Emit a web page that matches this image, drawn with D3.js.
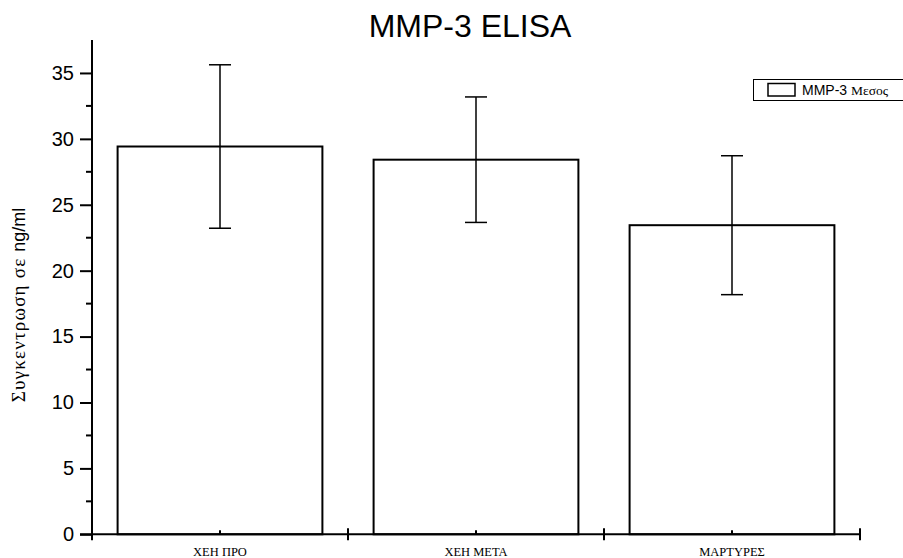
<!DOCTYPE html>
<html><head><meta charset="UTF-8"><title>MMP-3 ELISA</title>
<script src="https://cdn.jsdelivr.net/npm/d3@7"></script>
<style>
	body	{ margin:0; background:#fff; }
	svg	{ display:block; }
	.ax path, .ax line { stroke:#000; stroke-width:2; }
</style>
</head><body>
<svg width="903" height="558"></svg>
<script>
// data
var groups=["ΧΕΗ ΠΡΟ","ΧΕΗ ΜΕΤΑ","ΜΑΡΤΥΡΕΣ"];
var means=[29.42,28.42,23.45];
var errs=[6.2,4.76,5.27];
var yTicks=[0,5,10,15,20,25,30,35];
var yMinor=[2.5,7.5,12.5,17.5,22.5,27.5,32.5];

var svg=d3.select('svg');
var x0=92, x1=860, yb=534.3, yt=40;
var x=d3.scaleBand().domain(groups).range([x0,x1]).paddingInner(0).paddingOuter(0);
var y=d3.scaleLinear().domain([0,37.5]).range([yb,yt]);
var bw=x.bandwidth()*0.8;

// title
svg.append('text').attr('x',470).attr('y',37).attr('text-anchor','middle')
	.attr('font-family','Liberation Sans, Arial, sans-serif').attr('font-size',32).text('MMP-3 ELISA');

// bars
svg.selectAll('rect.bar').data(groups).enter().append('rect').attr('class','bar')
	.attr('x',function(d){return x(d)+(x.bandwidth()-bw)/2;})
	.attr('width',bw)
	.attr('y',function(d,i){return y(means[i]);})
	.attr('height',function(d,i){return y(0)-y(means[i]);})
	.attr('fill','#fff').attr('stroke','#000').attr('stroke-width',2);

// error bars
var eg=svg.append('g').attr('stroke','#000').attr('stroke-width',1.5);
groups.forEach(function(d,i){
	var cx=x(d)+x.bandwidth()/2, hi=y(means[i]+errs[i]), lo=y(means[i]-errs[i]);
	eg.append('line').attr('x1',cx).attr('x2',cx).attr('y1',hi).attr('y2',lo);
	eg.append('line').attr('x1',cx-11).attr('x2',cx+11).attr('y1',hi).attr('y2',hi);
	eg.append('line').attr('x1',cx-11).attr('x2',cx+11).attr('y1',lo).attr('y2',lo);
});

// y axis
var ya=svg.append('g').attr('class','ax').attr('transform','translate('+x0+',0)')
	.call(d3.axisLeft(y).tickValues(yTicks).tickSize(12).tickPadding(6).tickSizeOuter(0));
ya.select('.domain').attr('d','M0,'+yb+'V'+yt);
ya.selectAll('text').attr('font-family','Liberation Sans, Arial, sans-serif').attr('font-size',20).attr('fill','#000');
ya.selectAll('line.minor').data(yMinor).enter().append('line').attr('class','minor')
	.attr('x1',-6).attr('x2',0).attr('y1',function(d){return y(d);}).attr('y2',function(d){return y(d);});

// x axis
var xa=svg.append('g').attr('class','ax');
xa.append('line').attr('x1',x0-12).attr('x2',x1).attr('y1',yb).attr('y2',yb);
var bounds=groups.map(function(d){return x(d);}).concat([x1]);
xa.selectAll('line.maj').data(bounds).enter().append('line').attr('class','maj')
	.attr('x1',function(d){return d;}).attr('x2',function(d){return d;}).attr('y1',yb-6).attr('y2',yb+6);
xa.selectAll('line.min').data(groups).enter().append('line').attr('class','min')
	.attr('x1',function(d){return x(d)+x.bandwidth()/2;}).attr('x2',function(d){return x(d)+x.bandwidth()/2;})
	.attr('y1',yb-4).attr('y2',yb);
xa.selectAll('text').data(groups).enter().append('text')
	.attr('x',function(d){return x(d)+x.bandwidth()/2;}).attr('y',556).attr('text-anchor','middle')
	.attr('font-family','Liberation Serif, Times New Roman, serif').attr('font-size',12.5).text(function(d){return d;});

// y label: greek serif + latin sans
var yl=svg.append('text').attr('transform','translate(25,305) rotate(-90)').attr('text-anchor','middle');
yl.append('tspan').attr('font-family','Liberation Serif, Times New Roman, serif').attr('font-size',19).attr('letter-spacing',1.2).text('Συγκεντρωση σε ');
yl.append('tspan').attr('font-family','Liberation Sans, Arial, sans-serif').attr('font-size',18).text('ng/ml');

// legend
var lg=svg.append('g');
lg.append('rect').attr('x',753.5).attr('y',79.5).attr('width',150).attr('height',21).attr('fill','#fff').attr('stroke','#000').attr('stroke-width',1);
lg.append('rect').attr('x',768).attr('y',83.5).attr('width',27).attr('height',12.5).attr('fill','#fff').attr('stroke','#000').attr('stroke-width',1.5);
var lt=lg.append('text').attr('x',802).attr('y',95).attr('font-size',14);
lt.append('tspan').attr('font-family','Liberation Sans, Arial, sans-serif').text('MMP-3 ');
lt.append('tspan').attr('font-family','Liberation Serif, Times New Roman, serif').attr('font-size',13.5).text('Μεσος');
</script>
</body></html>
